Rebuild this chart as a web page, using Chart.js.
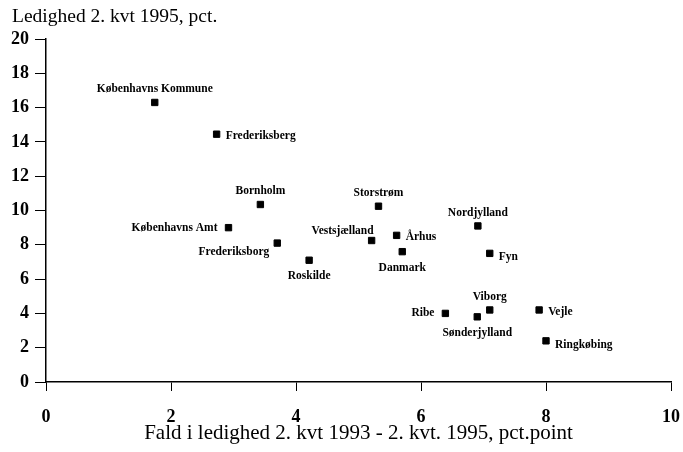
<!DOCTYPE html>
<html>
<head>
<meta charset="utf-8">
<script src="https://cdn.jsdelivr.net/npm/chart.js@4.4.0/dist/chart.umd.min.js"></script>
<style>
  html, body { margin: 0; padding: 0; background: #fff; }
  #wrap { width: 683px; height: 452px; }
</style>
</head>
<body>
<div id="wrap"><canvas id="chart" width="683" height="452"></canvas></div>
<script>
// --- Daten ---
const regions = ['Københavns Kommune', 'Frederiksberg', 'Bornholm', 'Københavns Amt', 'Frederiksborg',
  'Roskilde', 'Vestsjælland', 'Storstrøm', 'Århus', 'Danmark', 'Nordjylland', 'Fyn',
  'Viborg', 'Ribe', 'Sønderjylland', 'Vejle', 'Ringkøbing'];
const fald = [1.74, 2.73, 3.43, 2.92, 3.70, 4.21, 5.21, 5.32, 5.61, 5.70, 6.91, 7.10, 7.10, 6.39, 6.90, 7.89, 8.00];
const ledighed = [16.3, 14.45, 10.35, 9.0, 8.1, 7.1, 8.25, 10.25, 8.55, 7.6, 9.1, 7.5, 4.2, 4.0, 3.8, 4.2, 2.4];
// wo das Label relativ zum Punkt steht
const labelPos = ['above', 'right', 'above', 'left', 'leftbelow', 'below', 'aboveleft', 'above', 'right',
  'below', 'above', 'rightbelow', 'above', 'left', 'below', 'right', 'rightbelow'];

const xTicks = [0, 2, 4, 6, 8, 10];
const yTicks = [0, 2, 4, 6, 8, 10, 12, 14, 16, 18, 20];

const serif = '"Liberation Serif", "Times New Roman", serif';

// --- Label-Plugin ---
const pointLabels = {
  id: 'pointLabels',
  afterDatasetsDraw(chart) {
    const ctx = chart.ctx;
    const meta = chart.getDatasetMeta(0);
    ctx.save();
    ctx.font = 'bold 11.5px ' + serif;
    ctx.fillStyle = '#000';
    meta.data.forEach((pt, i) => {
      let x = pt.x, y = pt.y;
      const pos = labelPos[i];
      ctx.textBaseline = 'middle';
      if (pos === 'above') { ctx.textAlign = 'center'; y -= 13; }
      else if (pos === 'below') { ctx.textAlign = 'center'; y += 16; }
      else if (pos === 'right') { ctx.textAlign = 'left'; x += 9; y += 2; }
      else if (pos === 'rightbelow') { ctx.textAlign = 'left'; x += 9; y += 4; }
      else if (pos === 'left') { ctx.textAlign = 'right'; x -= 11; }
      else if (pos === 'leftbelow') { ctx.textAlign = 'right'; x -= 8; y += 9; }
      else if (pos === 'aboveleft') { ctx.textAlign = 'right'; x += 2; y -= 9; }
      ctx.fillText(regions[i], x, y);
    });
    ctx.restore();
  }
};

// --- Titel oben links ---
const topTitle = {
  id: 'topTitle',
  afterDraw(chart) {
    const ctx = chart.ctx;
    ctx.save();
    ctx.font = '19.5px ' + serif;
    ctx.fillStyle = '#000';
    ctx.textAlign = 'left';
    ctx.textBaseline = 'middle';
    ctx.fillText('Ledighed 2. kvt 1995, pct.', 12, 17);
    ctx.restore();
  }
};

new Chart(document.getElementById('chart'), {
  type: 'scatter',
  data: {
    datasets: [{
      data: fald.map((v, i) => ({ x: v, y: ledighed[i] })),
      backgroundColor: '#000',
      borderColor: '#000',
      pointStyle: 'rect',
      pointRadius: 4.5,
      pointHoverRadius: 4.5
    }]
  },
  options: {
    responsive: false,
    animation: false,
    layout: { padding: { top: 39, right: 12, left: 0, bottom: 0 } },
    plugins: { legend: { display: false }, tooltip: { enabled: false } },
    scales: {
      x: {
        type: 'linear', min: 0, max: 10,
        afterBuildTicks: s => { s.ticks = xTicks.map(v => ({ value: v })); },
        afterFit: s => { s.height = 70; s.paddingLeft = 0; s.paddingRight = 0; },
        grid: { drawOnChartArea: false, tickLength: 9, color: '#000', lineWidth: 1 },
        border: { color: '#000', width: 1.5 },
        ticks: { color: '#000', font: { family: serif, size: 18, weight: 'bold' }, padding: 16, maxRotation: 0 },
        title: { display: true, text: 'Fald i ledighed 2. kvt 1993 - 2. kvt. 1995, pct.point',
          color: '#000', font: { family: serif, size: 21 }, padding: { top: 0, bottom: 6 } }
      },
      y: {
        type: 'linear', min: 0, max: 20,
        afterBuildTicks: s => { s.ticks = yTicks.map(v => ({ value: v })); },
        afterFit: s => { s.width = 46; s.paddingTop = 0; s.paddingBottom = 0; },
        grid: { drawOnChartArea: false, tickLength: 11, color: '#000', lineWidth: 1 },
        border: { color: '#000', width: 1.5 },
        ticks: { color: '#000', font: { family: serif, size: 18, weight: 'bold' }, padding: 6 }
      }
    }
  },
  plugins: [pointLabels, topTitle]
});
</script>
</body>
</html>
